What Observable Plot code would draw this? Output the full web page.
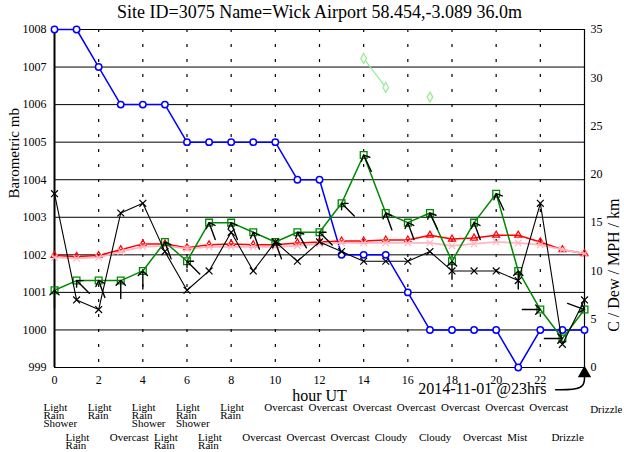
<!DOCTYPE html>
<html><head><meta charset="utf-8">
<script src="https://cdn.jsdelivr.net/npm/d3@7"></script>
<script src="https://cdn.jsdelivr.net/npm/@observablehq/plot@0.6"></script>
<style>body{margin:0;background:#fff} svg{display:block}</style>
</head><body><div id="chart"></div>
<script>
const title = "Site ID=3075 Name=Wick Airport 58.454,-3.089 36.0m";
const hours = [0,1,2,3,4,5,6,7,8,9,10,11,12,13,14,15,16,17,18,19,20,21,22,23,24];
const pressureMb = [1008,1008,1007,1006,1006,1006,1005,1005,1005,1005,1005,1004,1004,1002,1002,1002,1001,1000,1000,1000,1000,999,1000,1000,1000];
const tempC = [11.6,11.5,11.6,12.2,12.8,12.8,12.4,12.7,12.8,12.7,12.7,12.9,13.0,13.1,13.1,13.2,13.2,13.7,13.3,13.4,13.7,13.7,13.0,12.2,11.8];
const dewC = [11.4,11.3,11.4,12.0,12.5,12.6,12.3,12.5,12.5,12.5,12.5,12.6,12.8,12.9,12.9,12.9,12.9,12.9,12.6,12.8,13.0,12.9,12.7,12.2,11.8];
const windMph = [8,9,9,9,10,13,11,15,15,14,13,14,14,17,22,16,15,16,11,15,18,10,6,3,6];
const windFromDeg = [180,135,160,180,180,160,135,160,160,160,160,150,135,135,155,160,160,155,180,160,155,180,270,270,290];
const blackSeries = [18,7,6,16,17,12,8,10,14,10,13,11,13,12,11,11,11,12,10,10,10,9,17,2.4,7];
const visibilityKm = [null,null,null,null,null,null,null,null,null,null,null,null,null,null,32,29,null,28,null,null,null,null,null,null,null];
const weather = ["Light\nRain\nShower","Light\nRain","Light\nRain","Overcast","Light\nRain\nShower","Light\nRain","Light\nRain\nShower","Light\nRain","Light\nRain","Overcast","Overcast","Overcast","Overcast","Overcast","Overcast","Cloudy","Overcast","Cloudy","Overcast","Overcast","Overcast","Mist","Overcast","Drizzle","Drizzle"];
const mbTicks = [999,1000,1001,1002,1003,1004,1005,1006,1007,1008];
const rightTicks = [0,5,10,15,20,25,30,35];
const xTicks = [0,2,4,6,8,10,12,14,16,18,20,22];
const dashedHours = [2,4,6,8,10,12,14,16,18,20,22];
const dateLabel = "2014-11-01 @23hrs";
const dateLabelPos = [{x: 22.28, y: -2.2}];
const datePointer = [{x: 22.69, y: -2.3}, {x: 24, y: -2.3}, {x: 24, y: -0.9}];
const datePointerHead = [{x: 24, y: -0.6}];

const p2y = p => (p - 999) * 35 / 9;
const rows = hours.map((h, i) => ({
  h, p: p2y(pressureMb[i]), t: tempC[i], dew: dewC[i], w: windMph[i],
  dir: windFromDeg[i], k: blackSeries[i], vis: visibilityKm[i], wx: weather[i]
}));
const topRow = rows.filter(d => d.h % 2 === 0 && d.h < 24);
const botRow = rows.filter(d => d.h % 2 === 1);
const lastRow = rows.filter(d => d.h === 24);
const serif = "'Liberation Serif', 'Times New Roman', serif";

const chart = Plot.plot({
  width: 624, height: 452,
  marginLeft: 54, marginRight: 40, marginTop: 29, marginBottom: 85,
  style: {fontFamily: serif, fontSize: "12px", background: "white", color: "black", overflow: "visible"},
  x: {domain: [0, 24]},
  y: {domain: [0, 35]},
  marks: [
    Plot.ruleY(mbTicks, {y: p2y, stroke: "#000", strokeWidth: 1}),
    Plot.ruleX(dashedHours, {stroke: "#000", strokeWidth: 1.2, strokeDasharray: "3,12"}),
    Plot.ruleX([0], {stroke: "#000", strokeWidth: 2}),
    Plot.ruleX([24], {stroke: "#000", strokeWidth: 1.2}),
    Plot.axisX({ticks: xTicks, tickSize: 0, tickPadding: 8, label: null, fontSize: 12}),
    Plot.axisY({anchor: "left", ticks: mbTicks.map(p2y), tickFormat: d => String(Math.round(999 + d * 9 / 35)), tickSize: 0, tickPadding: 8, label: null, fontSize: 12}),
    Plot.axisY({anchor: "right", ticks: rightTicks, tickSize: 0, tickPadding: 6, label: null, fontSize: 12}),
    // light green visibility
    Plot.line(rows, {x: "h", y: "vis", stroke: "#90ee90", strokeWidth: 1.2}),
    Plot.dot(rows, {x: "h", y: "vis", symbol: "diamond", r: 3, stroke: "#90ee90", strokeWidth: 1.2, fill: "white"}),
    // pressure blue
    Plot.line(rows, {x: "h", y: "p", stroke: "#0000ff", strokeWidth: 1.5}),
    Plot.dot(rows, {x: "h", y: "p", r: 3.2, stroke: "#0000ff", strokeWidth: 1.5, fill: "white"}),
    // temperature red
    Plot.line(rows, {x: "h", y: "t", stroke: "#ff0000", strokeWidth: 1.5}),
    Plot.dot(rows, {x: "h", y: "t", symbol: "triangle", r: 2.6, stroke: "#ff0000", strokeWidth: 1.2, fill: "none"}),
    // dew pink
    Plot.line(rows, {x: "h", y: "dew", stroke: "#ffb6c1", strokeWidth: 1.8}),
    Plot.dot(rows, {x: "h", y: "dew", symbol: "times", r: 3, stroke: "#ffb6c1", strokeWidth: 1.2}),
    // wind green
    Plot.line(rows, {x: "h", y: "w", stroke: "#008800", strokeWidth: 1.5}),
    Plot.dot(rows, {x: "h", y: "w", symbol: "square", r: 3.8, stroke: "#008800", strokeWidth: 1.3, fill: "none"}),
    // black series
    Plot.line(rows, {x: "h", y: "k", stroke: "#000", strokeWidth: 1.1}),
    Plot.dot(rows, {x: "h", y: "k", symbol: "times", r: 3.2, stroke: "#000", strokeWidth: 1.2}),
    // wind arrows
    Plot.vector(rows, {x: "h", y: "w", rotate: d => (d.dir + 180) % 360, length: 18, anchor: "end", r: 4.5, stroke: "#000", strokeWidth: 1.4}),
    // titles
    Plot.text([title], {frameAnchor: "top", dy: -17, lineAnchor: "middle", fontSize: 18}),
    Plot.text(["Barometric mb"], {frameAnchor: "left", dx: -40, rotate: -90, fontSize: 15}),
    Plot.text(["C / Dew / MPH / km"], {frameAnchor: "right", dx: 29, rotate: -90, fontSize: 16}),
    Plot.text(["hour UT"], {frameAnchor: "bottom", dy: 28, lineAnchor: "middle", fontSize: 16}),
    // weather rows
    Plot.text(topRow, {x: "h", text: "wx", frameAnchor: "bottom", textAnchor: "start", lineAnchor: "top", dx: -11, dy: 38, lineHeight: 0.72, fontSize: 11}),
    Plot.text(botRow, {x: "h", text: "wx", frameAnchor: "bottom", textAnchor: "start", lineAnchor: "top", dx: -11, dy: 68, lineHeight: 0.72, fontSize: 11}),
    Plot.text(lastRow, {x: "h", text: "wx", frameAnchor: "bottom", textAnchor: "end", lineAnchor: "top", dx: 38, dy: 38, fontSize: 11}),
    // date annotation
    Plot.text(dateLabelPos, {x: "x", y: "y", text: () => dateLabel, textAnchor: "end", lineAnchor: "middle", fontSize: 16, clip: false}),
    Plot.line(datePointer, {x: "x", y: "y", curve: "basis", stroke: "#000", strokeWidth: 1.5}),
    Plot.dot(datePointerHead, {x: "x", y: "y", symbol: "triangle", r: 4, fill: "#000", stroke: "#000"})
  ]
});
document.getElementById("chart").append(chart);
</script>
</body></html>
